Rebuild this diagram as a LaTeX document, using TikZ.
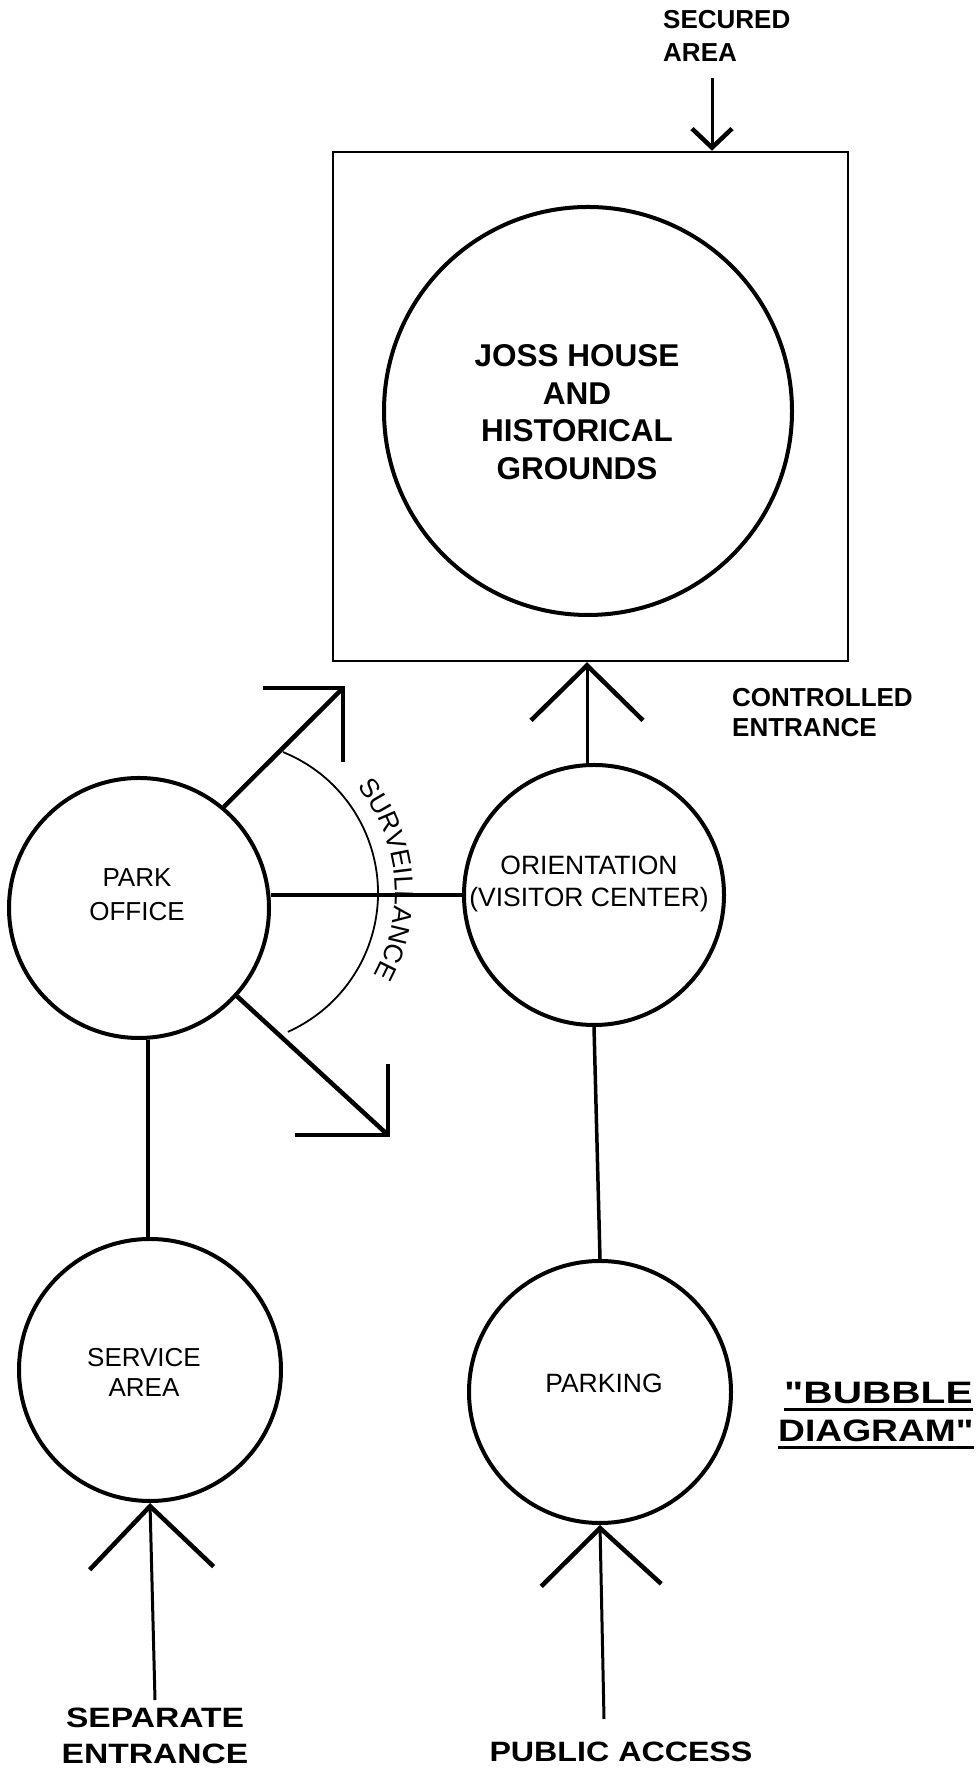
\documentclass[tikz,border=0pt]{standalone}
\usepackage{fontspec}
\setmainfont{Liberation Sans}
\newfontfamily\widesans[FakeStretch=1.15]{Liberation Sans}
\newfontfamily\widersans[FakeStretch=1.2]{Liberation Sans}
\newfontfamily\widestsans[FakeStretch=1.31]{Liberation Sans}
\usetikzlibrary{arrows.meta,decorations.text}
\newcommand\setfs[2]{\fontsize{#1}{#2}\selectfont}
\newcommand\survfont{\fontsize{26.5}{26.5}\selectfont}
\begin{document}
\begin{tikzpicture}[x=1pt,y=1pt,
  bubble/.style={circle,draw,line width=4pt,inner sep=0pt,minimum size=#1},
  lbl/.style={inner sep=0pt,align=center},
  link/.style={line width=3.5pt},
  ray/.style={line width=4.5pt},
  rayhead/.style={line width=4.5pt,line join=miter},
  entry/.style 2 args={line width=3pt,-{Straight Barb[length=#1,width=#2,line width=4.5pt]}},
  uline/.style={line width=3pt}]
\useasboundingbox (0,0) rectangle (977,1769);

% secured area
\node[draw,line width=2.5pt,minimum width=515pt,minimum height=509pt,inner sep=0pt] (secure) at (590.5,1362.5) {};
\node[bubble=408pt] (joss) at (588,1358) {};
\node[lbl,font={\bfseries\setfs{31.5}{37.5}}] (jossT) at (577,1357) {JOSS HOUSE\\AND\\HISTORICAL\\GROUNDS};
\node[lbl,anchor=north west,align=left,font={\bfseries\setfs{26}{33}}] (secT) at (663,1759) {SECURED\\AREA};
\coordinate (secX) at (712,1691);
\draw[entry={19pt}{40pt}] (secX) -- (secX |- secure.north);

% orientation
\node[lbl,anchor=north west,align=left,font={\bfseries\setfs{26}{30}}] (ctrlT) at (732,1081) {CONTROLLED\\ENTRANCE};
\node[bubble=260pt] (orient) at (594,874) {};
\node[lbl,font={\setfs{26.5}{32}}] (orientT) at (589,885) {ORIENTATION\\(VISITOR CENTER)};
\coordinate (ceX) at (587,0);
\draw[entry={55pt}{112pt}] (orient.north -| ceX) -- (secure.south -| ceX);

% park office
\node[bubble=260pt] (park) at (139,861) {};
\node[lbl,font={\setfs{26}{34}}] (parkT) at (137,874) {PARK\\OFFICE};
\coordinate (hl) at (0,874);
\draw[link] (park.east |- hl) -- (orient.west |- hl);

% surveillance rays
\coordinate (upTip) at (343,1081);
\coordinate (dnTip) at (388,634);
\draw[ray] (park.50) -- (upTip);
\draw[ray] (park.-42) -- (dnTip);
\draw[rayhead] ([xshift=-80pt]upTip) -- (upTip) -- ([yshift=-74pt]upTip);
\draw[rayhead] ([xshift=-93pt]dnTip) -- (dnTip) -- ([yshift=71pt]dnTip);
\coordinate (arcC) at (226,876);
\draw[line width=1.8pt] ([shift={(68:152)}]arcC) arc[start angle=68,end angle=-66,radius=152];
\path[decorate,decoration={text along path,text align=center,text={|\survfont|SURVEILLANCE}}]
  ([shift={(45:169)}]arcC) arc[start angle=45,end angle=-35,radius=169];

% service area
\node[bubble=262pt] (service) at (150,399) {};
\node[lbl,font={\setfs{26}{30}}] (serviceT) at (144,397) {SERVICE\\AREA};
\coordinate (svX) at (148,0);
\draw[link] (park.south -| svX) -- (service.north -| svX);
\coordinate (sepTail) at (155,69);
\draw[entry={62pt}{124pt}] (sepTail) -- (service.south);
\node[lbl,font={\widersans\bfseries\setfs{28}{36}}] (sepT) at (155,33) {SEPARATE\\ENTRANCE};

% parking
\node[bubble=262pt] (parking) at (600,377) {};
\node[lbl,font={\setfs{26.5}{32}}] (parkingT) at (604,386) {PARKING};
\draw[link] (orient.south) -- (parking.north);
\coordinate (pubTail) at (604,50);
\draw[entry={57pt}{120pt}] (pubTail) -- (parking.south);
\node[lbl,font={\widesans\bfseries\setfs{28}{34}}] (pubT) at (621,17) {PUBLIC ACCESS};

% title
\node[inner sep=0pt,anchor=base west,font={\widestsans\bfseries\setfs{31}{38}}] (bb1) at (784,365) {"BUBBLE};
\node[inner sep=0pt,anchor=base west,font={\widersans\bfseries\setfs{31}{38}}] (bb2) at (778,327) {DIAGRAM"};
\draw[uline] ([yshift=-6pt]bb1.base west) -- ([yshift=-6pt]bb1.base east);
\draw[uline] ([yshift=-6pt]bb2.base west) -- ([yshift=-6pt]bb2.base east);
\end{tikzpicture}
\end{document}
